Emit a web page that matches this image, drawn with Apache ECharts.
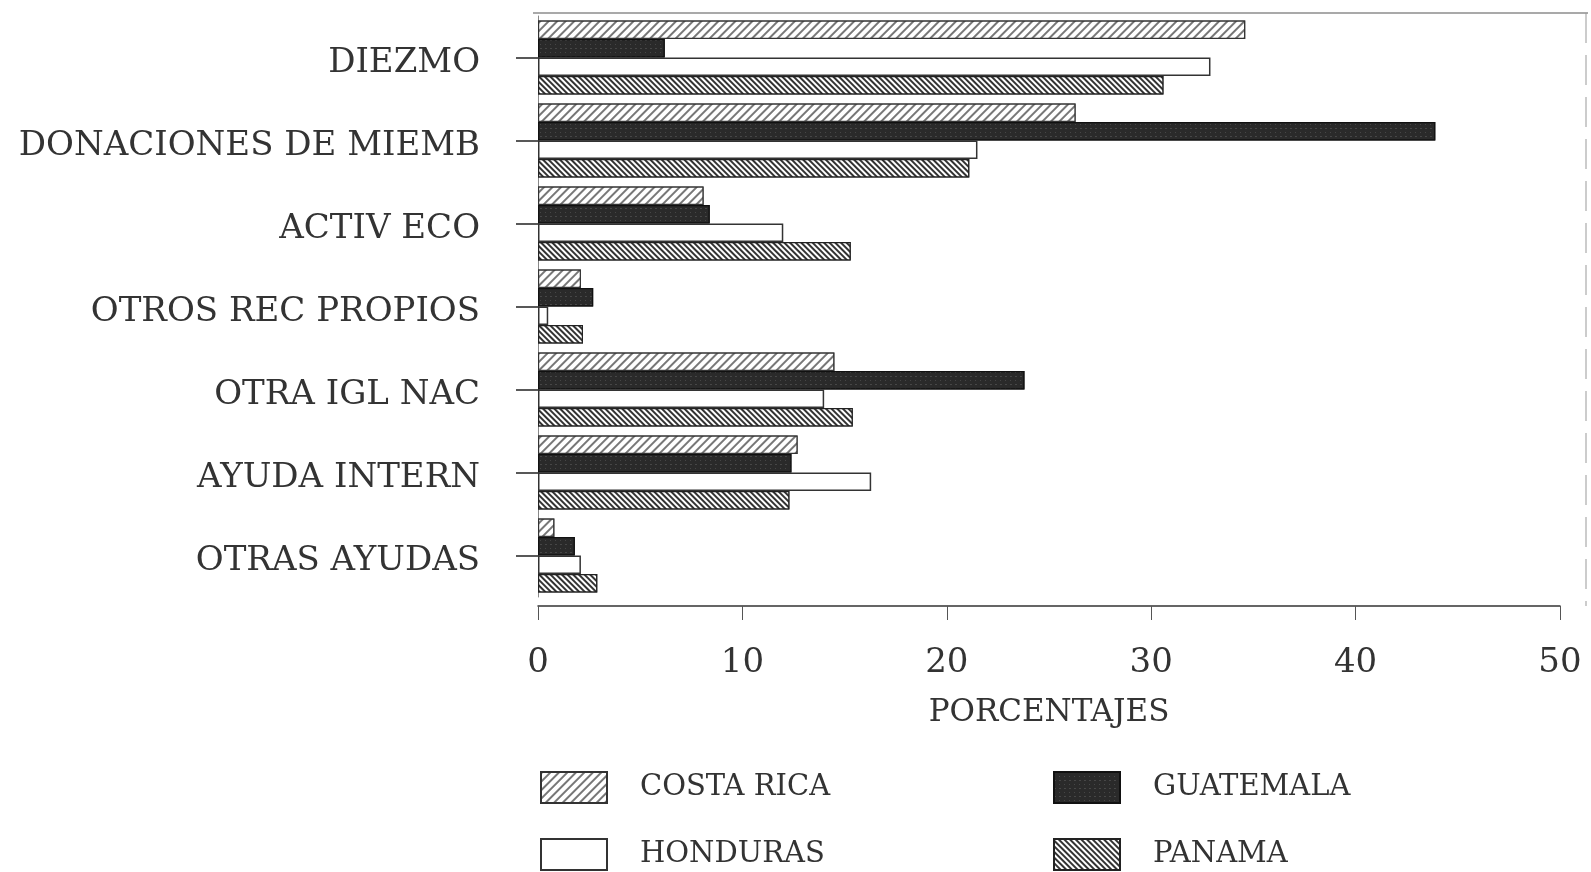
<!DOCTYPE html>
<html>
<head>
<meta charset="utf-8">
<script src="https://cdn.jsdelivr.net/npm/echarts@6/dist/echarts.min.js"></script>
<style>
  html, body { margin: 0; padding: 0; background: #fff; }
  #main { width: 1591px; height: 872px; }
</style>
</head>
<body>
<div id="main"></div>
<script>
// categories, top to bottom
var categorias = ['DIEZMO', 'DONACIONES DE MIEMB', 'ACTIV ECO', 'OTROS REC PROPIOS', 'OTRA IGL NAC', 'AYUDA INTERN', 'OTRAS AYUDAS'];
var xTicks = [0, 10, 20, 30, 40, 50];

// porcentajes por pais
var costaRica = [34.6, 26.3, 8.1, 2.1, 14.5, 12.7, 0.8];
var guatemala = [6.2, 43.9, 8.4, 2.7, 23.8, 12.4, 1.8];
var honduras  = [32.9, 21.5, 12.0, 0.5, 14.0, 16.3, 2.1];
var panama    = [30.6, 21.1, 15.3, 2.2, 15.4, 12.3, 2.9];

var serif = '"DejaVu Serif", "Liberation Serif", serif';
var myChart = echarts.init(document.getElementById('main'));

function serie(name, data, style) {
    return {
        name: name,
        type: 'bar',
        barWidth: 18.5,
        barGap: '0%',
        data: data,
        itemStyle: style
    };
}

myChart.setOption({
    backgroundColor: '#fff',
    animation: false,
    grid: {
        left: 538,
        right: 31,
        top: 16,
        bottom: 275
    },
    // marco: linea superior y derecha
    graphic: [
        { type: 'line', shape: { x1: 533, y1: 13, x2: 1588, y2: 13 }, style: { stroke: '#555', lineWidth: 1.2 } },
        { type: 'line', shape: { x1: 1586, y1: 13, x2: 1586, y2: 606 }, style: { stroke: '#999', lineWidth: 1, lineDash: [30, 12] } }
    ],
    xAxis: {
        type: 'value',
        min: xTicks[0],
        max: xTicks[xTicks.length - 1],
        interval: 10,
        offset: 9,
        name: 'PORCENTAJES',
        nameLocation: 'middle',
        nameGap: 91,
        nameTextStyle: { fontFamily: serif, fontSize: 31, color: '#333' },
        splitLine: { show: false },
        axisLine: { show: true, onZero: false, lineStyle: { color: '#333', width: 1.5 } },
        axisTick: { show: true, length: 14, lineStyle: { color: '#555' } },
        axisLabel: { margin: 40, fontFamily: serif, fontSize: 34, color: '#333' }
    },
    yAxis: {
        type: 'category',
        inverse: true,
        data: categorias,
        axisLine: { show: true, lineStyle: { color: '#888', width: 1 } },
        axisTick: { show: true, alignWithLabel: true, length: 22, lineStyle: { color: '#222', width: 1.5 } },
        axisLabel: {
            margin: 58,
            formatter: '{c|{value}}',
            rich: { c: { padding: [12, 0, 0, 0], fontFamily: serif, fontSize: 34, color: '#333' } }
        }
    },
    legend: [
        { data: ['COSTA RICA'], left: 535, top: 766 },
        { data: ['GUATEMALA'], left: 1048, top: 766 },
        { data: ['HONDURAS'], left: 535, top: 833 },
        { data: ['PANAMA'], left: 1048, top: 833 }
    ].map(function (l) {
        l.icon = 'rect';
        l.itemWidth = 66;
        l.itemHeight = 31;
        l.textStyle = { fontFamily: serif, fontSize: 29, color: '#333', padding: [0, 0, 0, 28] };
        return l;
    }),
    series: [
        serie('COSTA RICA', costaRica, {
            color: '#fff', borderColor: '#333', borderWidth: 1.2,
            decal: { symbol: 'rect', dashArrayX: [1, 0], dashArrayY: [2, 4], rotation: -Math.PI / 4, color: '#777', backgroundColor: '#fff' }
        }),
        serie('GUATEMALA', guatemala, {
            color: '#2a2a2a', borderColor: '#111', borderWidth: 1.2,
            decal: { symbol: 'rect', symbolSize: 0.6, dashArrayX: [[1, 4], [2, 3]], dashArrayY: [1, 3], color: '#8a8a8a', backgroundColor: '#2a2a2a' }
        }),
        serie('HONDURAS', honduras, {
            color: '#fff', borderColor: '#333', borderWidth: 1.5
        }),
        serie('PANAMA', panama, {
            color: '#fff', borderColor: '#222', borderWidth: 1.2,
            decal: { symbol: 'rect', dashArrayX: [1, 0], dashArrayY: [2, 2], rotation: Math.PI / 4, color: '#333', backgroundColor: '#fff' }
        })
    ]
});
</script>
</body>
</html>
